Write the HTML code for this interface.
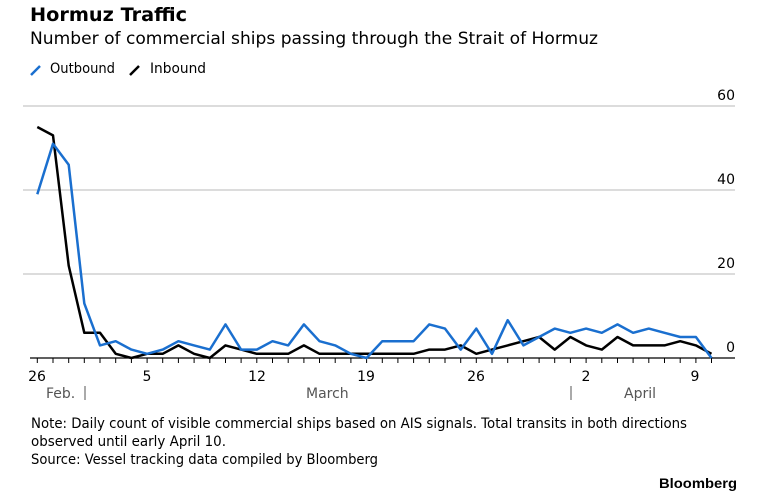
<!DOCTYPE html>
<html><head><meta charset="utf-8"><style>
html,body{margin:0;padding:0;background:#fff;}
svg{display:block;font-family:"DejaVu Sans","Liberation Sans",sans-serif;}
</style></head><body>
<svg width="763" height="504" viewBox="0 0 763 504" xmlns="http://www.w3.org/2000/svg">
<rect width="763" height="504" fill="#fff"/>
<text x="30" y="21" font-size="19" font-weight="bold" fill="#000" textLength="157" lengthAdjust="spacingAndGlyphs">Hormuz Traffic</text>
<text x="30" y="44" font-size="17" fill="#000" textLength="568" lengthAdjust="spacingAndGlyphs">Number of commercial ships passing through the Strait of Hormuz</text>
<line x1="31" y1="75" x2="40" y2="66" stroke="#1a6fcf" stroke-width="2.5"/>
<text x="50" y="73" font-size="14" fill="#000" textLength="65" lengthAdjust="spacingAndGlyphs">Outbound</text>
<line x1="130" y1="75" x2="139" y2="66" stroke="#000" stroke-width="2.5"/>
<text x="150" y="73" font-size="14" fill="#000" textLength="56" lengthAdjust="spacingAndGlyphs">Inbound</text>
<g stroke="#c8c8c8" stroke-width="1.3">
<line x1="23" y1="106" x2="735" y2="106"/>
<line x1="23" y1="190" x2="735" y2="190"/>
<line x1="23" y1="274" x2="735" y2="274"/>
</g>
<g font-size="14" fill="#000" text-anchor="end">
<text x="735" y="100">60</text><text x="735" y="184">40</text><text x="735" y="268">20</text><text x="735" y="352">0</text>
</g>
<line x1="30" y1="358" x2="735" y2="358" stroke="#000" stroke-width="1.3"/>
<g id="ticks" stroke="#000" stroke-width="1"></g>
<g font-size="14" fill="#000" text-anchor="middle">
<text x="37" y="381">26</text><text x="147" y="381">5</text><text x="257" y="381">12</text><text x="366" y="381">19</text><text x="476" y="381">26</text><text x="586" y="381">2</text><text x="695" y="381">9</text>
</g>
<g font-size="14" fill="#555">
<text x="46" y="398">Feb.</text><text x="306" y="398">March</text><text x="624" y="398">April</text>
</g>
<line x1="85" y1="386" x2="85" y2="400" stroke="#555" stroke-width="1"/>
<line x1="571" y1="386" x2="571" y2="400" stroke="#555" stroke-width="1"/>
<polyline id="inb" fill="none" stroke="#000" stroke-width="2.5" stroke-linejoin="round"/>
<polyline id="outb" fill="none" stroke="#1a6fcf" stroke-width="2.5" stroke-linejoin="round"/>
<text x="31" y="428" font-size="14" fill="#000" textLength="656" lengthAdjust="spacingAndGlyphs">Note: Daily count of visible commercial ships based on AIS signals. Total transits in both directions</text>
<text x="31" y="446" font-size="14" fill="#000" textLength="195" lengthAdjust="spacingAndGlyphs">observed until early April 10.</text>
<text x="31" y="464" font-size="14" fill="#000" textLength="347" lengthAdjust="spacingAndGlyphs">Source: Vessel tracking data compiled by Bloomberg</text>
<text x="737" y="488" font-size="14" font-weight="bold" fill="#000" text-anchor="end" textLength="78" lengthAdjust="spacingAndGlyphs" font-family="Liberation Sans, sans-serif">Bloomberg</text>
</svg>
<script>
var out=[39,51,46,13,3,4,2,1,2,4,3,2,8,2,2,4,3,8,4,3,1,0,4,4,4,8,7,2,7,1,9,3,5,7,6,7,6,8,6,7,6,5,5,0];
var inb=[55,53,22,6,6,1,0,1,1,3,1,0,3,2,1,1,1,3,1,1,1,1,1,1,1,2,2,3,1,2,3,4,5,2,5,3,2,5,3,3,3,4,3,1];
function pts(a){return a.map(function(v,i){return (37.3+i*15.68).toFixed(1)+","+(358-v*4.2).toFixed(1)}).join(" ");}
document.getElementById("outb").setAttribute("points",pts(out));
document.getElementById("inb").setAttribute("points",pts(inb));
var g=document.getElementById("ticks"),s="";
for(var i=0;i<=43;i++){var x=(37.3+i*15.68).toFixed(1);s+='<line x1="'+x+'" y1="358" x2="'+x+'" y2="363"/>';}
g.innerHTML=s;
</script>
</body></html>
